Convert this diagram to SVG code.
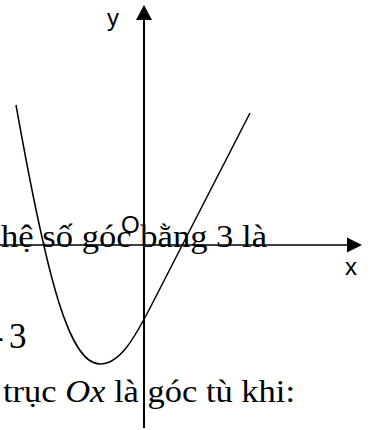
<svg xmlns="http://www.w3.org/2000/svg" width="370" height="430" viewBox="0 0 370 430">
<style>
.doc{font-family:"Liberation Serif","Times New Roman",serif;fill:#000}
.lbl{font-family:"Liberation Sans",Arial,sans-serif;font-size:24px;fill:#000}
.ax{stroke:#000;fill:none}
</style>
<rect width="370" height="430" fill="#fff"/>
<g id="background-text">
<text class="doc" x="1" y="247" font-size="32" textLength="266" lengthAdjust="spacingAndGlyphs">hệ số góc bằng 3 là</text>
<text class="doc" y="348" font-size="35"><tspan x="-8">-</tspan><tspan x="9">3</tspan></text>
<text class="doc" x="3" y="402" font-size="32" textLength="292" lengthAdjust="spacingAndGlyphs">trục <tspan font-style="italic">Ox</tspan> là góc tù khi:</text>
</g>
<g id="axes">
<line class="ax" x1="0" y1="245" x2="348" y2="245" stroke-width="1.5"/>
<polygon points="362,245 347,237.5 347,252.5" fill="#000"/>
<line class="ax" x1="144" y1="19" x2="144" y2="428" stroke-width="2"/>
<polygon points="144,5 136,20 152,20" fill="#000"/>
</g>
<g id="labels">
<text class="lbl" x="107" y="26">y</text>
<text class="lbl" x="345" y="275">x</text>
<text class="lbl" x="121" y="233">O</text>
</g>
<g id="curve">
<path class="ax" stroke-width="1.5" d="M16,105 C48,285 70,364 100,364 C120,364 134.4,338 150,308 L250,113"/>
</g>
</svg>
